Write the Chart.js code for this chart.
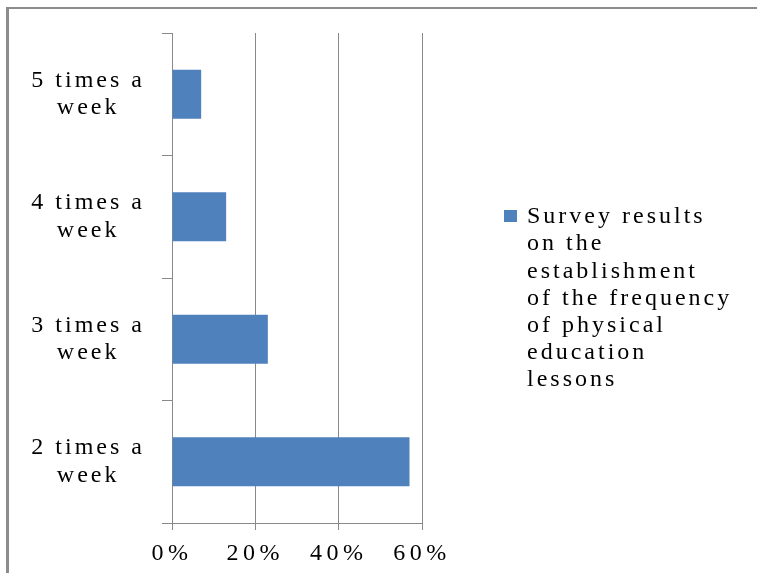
<!DOCTYPE html>
<html>
<head>
<meta charset="utf-8">
<script src="https://cdn.jsdelivr.net/npm/chart.js@4/dist/chart.umd.min.js"></script>
<style>
    body { margin: 0; background: #fff; }
    #wrap { position: relative; width: 757px; height: 573px; overflow: hidden; }
    #frame { position: absolute; left: 6px; top: 7px; width: 800px; height: 600px;
             border-left: 3px solid #8c8c8c; border-top: 2px solid #8c8c8c; }
    #chart { position: absolute; left: 0; top: 0; }
</style>
</head>
<body>
<div id="wrap">
    <div id="frame"></div>
    <canvas id="chart" width="757" height="573"></canvas>
</div>
<script>
// --- datos ---
const categories = [['5 times a', 'week'], ['4 times a', 'week'], ['3 times a', 'week'], ['2 times a', 'week']];
const surveyValues = [7, 13, 23, 57];
const xTicks = [0, 20, 40, 60];
const seriesName = 'Survey results on the establishment of the frequency of physical education lessons';
const legendLines = ['Survey results', 'on the', 'establishment', 'of the frequency', 'of physical', 'education', 'lessons'];

const FONT = "'Liberation Serif', 'Times New Roman', serif";
const BLUE = '#4F81BD';
const GRID = '#898989';
const TEXT = '#000';

// el texto original sale "estirado", lo imitamos con letterSpacing
const spacingPlugin = {
    id: 'spacing',
    beforeLayout: (chart) => { chart.ctx.letterSpacing = '3px'; },
    beforeDraw: (chart) => { chart.ctx.letterSpacing = '3px'; }
};

// leyenda a la derecha con varias líneas
const legendPlugin = {
    id: 'multiLegend',
    afterDraw: (chart) => {
        const ctx = chart.ctx;
        ctx.save();
        ctx.letterSpacing = '3px';
        ctx.fillStyle = BLUE;
        ctx.fillRect(504, 210, 13, 12);
        ctx.fillStyle = TEXT;
        ctx.font = `24px ${FONT}`;
        ctx.textAlign = 'left';
        ctx.textBaseline = 'middle';
        legendLines.forEach((line, i) => {
            ctx.fillText(line, 527, 217 + i * 27.2);
        });
        ctx.restore();
    }
};

new Chart(document.getElementById('chart'), {
    type: 'bar',
    data: {
        labels: categories,
        datasets: [{
            label: seriesName,
            data: surveyValues,
            backgroundColor: BLUE,
            borderWidth: 0,
            categoryPercentage: 1,
            barPercentage: 0.4
        }]
    },
    options: {
        indexAxis: 'y',
        responsive: false,
        animation: false,
        devicePixelRatio: 1,
        layout: { padding: { top: 33, right: 335, bottom: 0, left: 0 } },
        plugins: {
            legend: { display: false },
            tooltip: { enabled: false }
        },
        scales: {
            x: {
                min: 0,
                max: 60,
                afterBuildTicks: (s) => { s.ticks = xTicks.map(v => ({ value: v })); },
                afterFit: (s) => {
                    s.height = 50;
                    // etiquetas del eje x algo más anchas
                    const orig = s.drawLabels;
                    s.drawLabels = function (area) {
                        this.ctx.letterSpacing = '4.5px';
                        orig.call(this, area);
                        this.ctx.letterSpacing = '3px';
                    };
                },
                grid: { color: GRID, lineWidth: 1, tickLength: 7, drawTicks: true },
                border: { color: GRID, width: 1 },
                ticks: {
                    color: TEXT,
                    padding: 9,
                    font: { family: FONT, size: 24 },
                    callback: (v) => v + '%'
                }
            },
            y: {
                afterFit: (s) => {
                    s.width = 172;
                    s.paddingTop = 0;
                    s.paddingBottom = 0;
                },
                grid: { drawOnChartArea: false, color: GRID, tickLength: 10, offset: true },
                border: { color: GRID, width: 1 },
                ticks: {
                    color: TEXT,
                    crossAlign: 'center',
                    padding: 17,
                    font: { family: FONT, size: 24, lineHeight: 1.13 }
                }
            }
        }
    },
    plugins: [spacingPlugin, legendPlugin]
});
</script>
</body>
</html>
